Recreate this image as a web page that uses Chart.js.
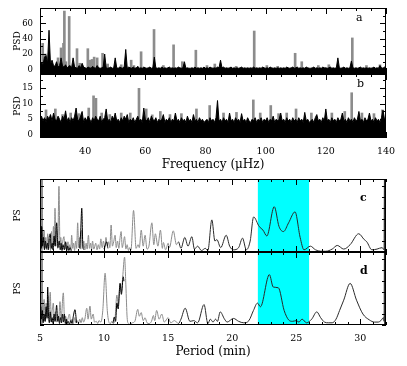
<!DOCTYPE html>
<html><head><meta charset="utf-8">
<script src="https://cdn.jsdelivr.net/npm/chart.js@4.4.1/dist/chart.umd.min.js"></script>
<style>
html,body{margin:0;padding:0;background:#fff;}
#wrap{position:relative;width:407px;height:366px;overflow:hidden;background:#fff;}
canvas{position:absolute;left:0;}
.lab{position:absolute;font-family:"DejaVu Serif";font-size:11px;color:#000;line-height:1;}
</style></head><body>
<div id="wrap">
<canvas id="cc" width="407" height="82" style="top:170px"></canvas>
<canvas id="cd" width="407" height="110" style="top:252px"></canvas>
<canvas id="ca" width="407" height="74" style="top:0px"></canvas>
<canvas id="cb" width="407" height="100" style="top:74px"></canvas>
<div class="lab" style="left:356px;top:12px">a</div>
<div class="lab" style="left:357px;top:78px">b</div>
<div class="lab" style="left:360px;top:192px;font-weight:bold">c</div>
<div class="lab" style="left:360px;top:265px;font-weight:bold">d</div>
</div>
<script>
// ---------- DATA ----------
// Panels a,b: frequency grid (muHz)
const FREQ_START = 25, FREQ_STEP = 0.5;
const freqTicks = [40, 60, 80, 100, 120, 140];
const psdTicksA = [0, 20, 40, 60];
const psdTicksB = [0, 5, 10, 15];
const periodTicks = [5, 10, 15, 20, 25, 30];
const highlightPeriod = [22, 26];

// panel a: black spectrum, one value per 0.5 muHz from 25 to 140
const psdBlackA = [
 3, 9, 6, 16, 18, 8, 51, 6, 12, 5,
 4, 10, 3, 5, 15, 4, 3, 6, 2, 4,
 5, 2, 15, 3, 2, 1.5, 5, 2, 8, 3,
 2, 1.5, 3, 2, 1.5, 4, 2, 1.5, 5, 2,
 1.5, 2, 3, 20, 2, 1.5, 2, 3, 1.5, 2,
 15, 2, 1.5, 3, 2, 1.5, 4, 26, 1.5, 3,
 2, 1.5, 3, 1.5, 2, 4, 1.5, 2, 1.5, 3,
 2, 1.5, 2, 3, 1.5, 2, 16, 2, 1.5, 2,
 1.5, 3, 1.5, 2, 1.5, 2, 3, 1.5, 2, 1.5,
 2, 1.5, 3, 2, 1.5, 2, 10, 1.5, 2, 1.5,
 1.5, 2, 1.5, 3, 1.5, 2, 1.5, 2, 1.5, 3,
 1.5, 2, 1.5, 3, 2, 1.5, 2, 1.5, 3, 2,
 12, 2, 3, 1.5, 2, 1.5, 2, 3, 1.5, 2,
 1.5, 2, 1.5, 2, 3, 1.5, 2, 1.5, 2, 1.5,
 2, 1.5, 3, 1.5, 2, 1.5, 2, 1.5, 3, 2,
 1.5, 2, 1.5, 3, 2, 1.5, 2, 1.5, 2, 1.5,
 2, 1.5, 2, 1.5, 3, 2, 1.5, 2, 3, 1.5,
 2, 3, 1.5, 2, 1.5, 2, 1.5, 3, 2, 1.5,
 1.5, 2, 3, 1.5, 2, 1.5, 2, 1.5, 3, 2,
 2, 1.5, 2, 3, 1.5, 2, 1.5, 2, 15, 2,
 1.5, 2, 3, 1.5, 2, 1.5, 2, 11, 2, 1.5,
 2, 1.5, 2, 3, 1.5, 2, 1.5, 2, 1.5, 2,
 1.5, 2, 3, 1.5, 2, 1.5, 5, 2, 1.5, 3,
 2
];
// panel a: grey peaks
const greyFreqA = [25.9, 26.8, 31.0, 32.0, 32.8, 33.1, 33.6, 34.7, 37.3, 38.2, 40.9, 41.6, 42.3, 43.0, 44.0, 45.8, 47.5, 52.0, 55.3, 56.2, 58.6, 62.9, 66.0, 69.4, 72.3, 76.8, 80.5, 83.1, 90.2, 96.2, 100.4, 104.0, 109.8, 112.0, 117.5, 121.0, 128.8, 133.5, 138.0];
const greyPsdA  = [34, 20, 15, 28, 34, 76, 10, 69, 27, 8, 27, 12, 13, 16, 15, 21, 7, 6, 12, 5, 23, 52, 5, 32, 10, 25, 5, 7, 4, 50, 5, 4, 21, 10, 5, 6, 41, 5, 6];

// panel b: black spectrum, one value per 0.5 muHz from 25 to 140
const psdBlackB = [
 5, 6, 4.5, 5.5, 4, 6, 5, 6.5, 4.5, 7,
 5, 4.5, 6, 5, 4, 6, 5, 7.7, 4.5, 5.5,
 4, 5.5, 4.5, 6, 8.6, 5, 4.5, 6, 7.5, 4,
 5.5, 4.5, 6, 5, 4, 5.5, 4.5, 6, 5, 4.5,
 6, 4, 5, 5.5, 8.3, 4.5, 5, 4, 6, 5,
 7, 4.5, 5, 4, 5.5, 4.5, 6, 5, 6.5, 4,
 5, 4.5, 5.5, 4, 5, 6, 4.5, 5, 4, 8.6,
 5, 4.5, 5.5, 4, 6, 5, 4.5, 5.5, 4, 5,
 4.5, 5, 6.5, 4, 5, 4.5, 5.5, 4, 5, 4.5,
 7, 4.5, 5, 4, 5.5, 4.5, 5, 4, 6, 4.5,
 5, 4, 6.5, 4.5, 5, 4, 5.5, 4.5, 5, 4,
 4.5, 5, 4, 5.5, 4.5, 5, 4, 5.5, 11, 4.5,
 5, 4, 5.5, 4.5, 5, 4, 7, 4.5, 5, 4,
 5.5, 4.5, 5, 4, 6.8, 4.5, 5, 4, 5.5, 4.5,
 4, 5, 4.5, 5.5, 4, 5, 4.5, 5.5, 4, 5,
 4.5, 5.5, 4, 5, 4.5, 6, 4, 5, 4.5, 5,
 7, 4.5, 5, 4, 5.5, 4.5, 5, 4, 5.5, 4.5,
 5, 4, 5.5, 4.5, 5, 4, 7.2, 4.5, 5, 4,
 4.5, 5, 4, 5.5, 6.5, 4.5, 5, 4, 5.5, 4.5,
 8.3, 4.5, 5, 4, 5.5, 4.5, 5, 4, 5.5, 4.5,
 5, 7, 4.5, 5, 4, 5.5, 4.5, 5, 4, 5.5,
 4.5, 5, 7.5, 4.5, 5, 4, 5.5, 4.5, 5, 7,
 4.5, 5, 4, 5.5, 4.5, 5, 4, 5.5, 7.9, 5,
 5
];
// panel b: grey peaks
const greyFreqB = [27.0, 30.1, 32.5, 35.2, 38.0, 41.2, 42.8, 43.6, 45.5, 48.2, 52.0, 55.0, 57.9, 60.3, 62.3, 65.0, 68.2, 72.0, 77.0, 81.4, 86.0, 90.3, 95.9, 98.2, 101.7, 104.3, 107.0, 110.1, 115.2, 122.0, 126.3, 128.6, 132.0, 136.0, 138.8];
const greyPsdB  = [8, 8.3, 6.5, 7, 6.8, 8.6, 12.5, 11.7, 7, 6.5, 7, 7, 14.9, 8.3, 6.4, 7.5, 6.5, 6.8, 8.3, 9.4, 7, 7.2, 11.2, 7, 9.4, 6.8, 7, 8.3, 7, 7, 7.5, 13.5, 7, 6.8, 8];

// panel c: [period (min), PS (% of panel)]
const psGreyC = [
 [5.00,100],[5.03,0],[5.06,100],[5.09,0],[5.12,100],[5.15,0],[5.18,100],[5.21,5],
 [5.25,10],[5.32,30],[5.38,5],[5.45,20],[5.52,3],[5.6,25],[5.68,5],[5.75,18],[5.82,2],[5.9,28],[5.97,4],[6.05,35],[6.12,10],[6.17,60],[6.24,8],[6.3,30],[6.38,5],[6.48,90],[6.56,10],[6.62,20],[6.7,3],[6.78,15],[6.87,21],[6.95,4],[7.02,12],[7.1,2],[7.18,14],[7.25,3],[7.32,10],[7.4,2],[7.47,23],[7.55,5],[7.62,12],[7.7,2],[7.78,15],[7.86,5],[7.94,40],[8.02,6],[8.1,20],[8.18,4],[8.26,30],[8.34,5],[8.42,15],[8.5,3],[8.6,12],[8.68,4],[8.78,23],[8.86,5],[8.95,12],[9.03,3],[9.1,15],[9.2,4],[9.35,12],[9.45,3],[9.55,10],[9.65,4],[9.75,18],[9.85,6],[9.95,15],[10.05,5],[10.15,20],[10.25,8],[10.35,14],[10.45,6],[10.55,37],[10.65,8],[10.75,14],[10.86,23],[10.95,6],[11.05,15],[11.15,5],[11.25,20],[11.33,28],[11.42,6],[11.5,12],[11.6,21],[11.7,4],[11.8,10],[11.9,2],[12.0,6],[12.1,3],[12.3,57],[12.5,5],[12.65,10],[12.75,6],[12.9,30],[13.05,8],[13.2,23],[13.35,4],[13.5,8],[13.73,40],[13.88,10],[14.0,25],[14.2,8],[14.4,30],[14.55,5],[14.63,13],[14.8,3],[15.0,12],[15.1,6],[15.4,29],[15.65,10],[15.8,14],[16.0,5],[16.3,20],[16.55,8],[16.85,21],[17.05,4],[17.3,8],[17.6,2],[17.9,5],[18.1,2],[18.41,44],[18.65,15],[18.8,17],[19.1,6],[19.53,23],[19.8,8],[20.1,3],[20.5,6],[20.8,19],[21.1,3],[21.4,15],[21.67,48],[22.1,35],[22.4,30],[22.7,22],[23.28,62],[23.65,35],[24.0,28],[24.4,40],[24.9,55],[25.3,20],[25.6,3],[26.1,8],[26.5,3],[27.0,1],[27.3,1],[27.8,4],[28.2,9],[28.7,4],[29.2,10],[29.87,25],[30.3,17],[30.5,14],[30.9,3],[31.3,4],[31.7,6],[31.85,3],[31.88,100],[31.91,0],[31.94,100],[31.97,0],[32.0,100]
];
const psBlackC = [
 [5.0,20],[5.05,35],[5.1,5],[5.13,35],[5.2,8],[5.28,20],[5.35,3],[5.42,15],[5.5,5],[5.58,12],[5.65,3],[5.72,20],[5.8,25],[5.88,5],[5.95,12],[6.02,3],[6.1,22],[6.18,8],[6.3,40],[6.4,6],[6.5,15],[6.58,3],[6.65,12],[6.72,2],[6.8,10],[6.9,3],[7.0,14],[7.08,2],[7.15,8],[7.25,2],[7.35,6],[7.45,2],[7.5,null],
 [8.1,5],[8.18,30],[8.26,60],[8.34,10],[8.42,3],[8.5,null],
 [10.0,4],[10.1,10],[10.2,14],[10.3,5]
];
// panel d
const psGreyD = [
 [5.00,100],[5.03,0],[5.06,100],[5.09,0],[5.12,100],[5.15,0],[5.18,100],[5.21,5],
 [5.25,10],[5.32,35],[5.4,5],[5.48,30],[5.55,8],[5.62,40],[5.7,10],[5.8,45],[5.88,5],[5.95,20],[6.04,30],[6.12,5],[6.2,18],[6.28,4],[6.35,15],[6.45,5],[6.56,32],[6.65,8],[6.82,44],[6.92,6],[7.0,12],[7.1,3],[7.2,10],[7.3,15],[7.4,3],[7.5,8],[7.6,2],[7.7,10],[7.8,3],[7.9,6],[8.0,2],[8.1,8],[8.2,3],[8.3,10],[8.4,4],[8.5,8],[8.65,23],[8.75,8],[8.9,26],[9.0,8],[9.15,15],[9.25,4],[9.4,5],[9.5,2],[9.6,6],[9.75,4],[9.9,20],[10.08,71],[10.25,20],[10.4,3],[10.5,2],[10.6,5],[10.7,2],[10.85,8],[11.0,41],[11.1,28],[11.25,57],[11.35,45],[11.45,65],[11.6,93],[11.7,55],[11.8,10],[11.9,2],[12.0,1],[12.2,3],[12.4,5],[12.63,21.5],[12.75,12],[12.9,17],[13.05,6],[13.2,10],[13.35,3],[13.5,2],[13.7,5],[13.85,13],[13.95,6],[14.1,20],[14.3,8],[14.5,15],[14.7,4],[15.0,10],[15.2,3],[15.5,6],[15.8,2],[16.0,8],[16.33,23],[16.7,5],[17.0,6],[17.3,3],[17.8,28],[18.1,2],[18.3,8],[18.5,4],[18.7,8],[18.85,5],[19.06,18],[19.4,8],[19.6,4],[20.1,9],[20.5,5],[20.9,3],[21.3,6],[21.66,20],[21.97,30],[22.2,25],[22.9,69],[23.2,52],[23.6,51],[24.05,20],[24.4,7],[24.7,5],[25.0,6],[25.2,4],[25.45,8],[25.8,3],[26.2,8],[26.6,18],[26.9,10],[27.2,4],[27.5,3],[27.8,3],[28.1,8],[28.38,20],[28.7,34],[29.2,57],[29.7,34],[30.2,15],[30.7,7],[31.1,4],[31.4,4],[31.6,6],[31.8,10],[31.85,5],[31.88,100],[31.91,0],[31.94,100],[31.97,0],[32.0,100]
];
const psBlackD = [
 [5.0,15],[5.06,25],[5.12,8],[5.18,20],[5.25,3],[5.32,15],[5.4,5],[5.48,25],[5.55,10],[5.6,52],[5.66,15],[5.73,3],[5.8,18],[5.88,4],[5.95,10],[6.02,2],[6.1,15],[6.18,5],[6.3,27],[6.38,5],[6.45,12],[6.52,2],[6.6,10],[6.68,3],[6.75,15],[6.83,4],[6.9,15],[6.98,2],[7.05,8],[7.12,2],[7.2,5],[7.3,1],[7.4,6],[7.5,2],[7.6,12],[7.73,21],[7.85,3],[7.9,null],
 [10.7,3],[10.8,11],[10.9,5],[11.0,30],[11.1,22],[11.25,57],[11.35,42],[11.5,66],[11.55,60]
];

// ---------- STYLE / PLUGINS ----------
const SERIF = "DejaVu Serif";
const GREY = '#8c8c8c';
const DARK_FROM = 15.8;

const frameTicks = {
  id: 'frameTicks',
  beforeDatasetsDraw(chart, args, o) {
    if (!o.band) return;
    const {ctx, chartArea: {top, bottom}, scales: {x}} = chart;
    const x0 = x.getPixelForValue(o.band[0]), x1 = x.getPixelForValue(o.band[1]);
    ctx.save(); ctx.fillStyle = '#00ffff'; ctx.fillRect(x0, top, x1 - x0, bottom - top); ctx.restore();
  },
  afterDatasetsDraw(chart, args, o) {
    const {ctx, chartArea: {left, right, top, bottom}, scales: {x, y}} = chart;
    ctx.save();
    ctx.strokeStyle = '#000'; ctx.lineWidth = 1;
    ctx.strokeRect(left + 0.5, top + 0.5, right - left - 1, bottom - top - 1);
    const set = (scale, step, len, horiz) => {
      for (let i = Math.ceil(scale.min / step - 1e-9); i * step <= scale.max + 1e-9; i++) {
        const p = Math.round(scale.getPixelForValue(i * step)) + 0.5;
        ctx.beginPath();
        if (horiz) { ctx.moveTo(p, bottom); ctx.lineTo(p, bottom - len); ctx.moveTo(p, top); ctx.lineTo(p, top + len); }
        else { ctx.moveTo(left, p); ctx.lineTo(left + len, p); ctx.moveTo(right, p); ctx.lineTo(right - len, p); }
        ctx.stroke();
      }
    };
    set(x, o.xMinor, 3, true); set(x, o.xMajor, 6, true);
    set(y, o.yMinor, 3, false); set(y, o.yMajor, o.yMajorLen || 6, false);
    ctx.restore();
  }
};

function yAxis(min, max, ticks, title, showLabels) {
  return {
    min, max,
    grid: {display: false, drawTicks: false}, border: {display: false},
    ticks: {display: showLabels, padding: 7, color: '#000', font: {family: SERIF, size: 8.5}},
    afterBuildTicks(s) { if (ticks) s.ticks = ticks.map(v => ({value: v})); },
    afterFit(s) { s.width = 40; s.paddingTop = 0; s.paddingBottom = 0; },
    title: {display: true, text: title, color: '#000', font: {family: SERIF, size: 9}, padding: {top: 12, bottom: 0}}
  };
}
function xAxis(min, max, ticks, title, h, titlePad) {
  return {
    type: 'linear', min, max, offset: false,
    grid: {display: false, drawTicks: false}, border: {display: false},
    ticks: {display: !!ticks, padding: 8, color: '#000', font: {family: SERIF, size: 9.5}, maxRotation: 0, autoSkip: false},
    afterBuildTicks(s) { if (ticks) s.ticks = ticks.map(v => ({value: v})); },
    afterFit(s) { s.height = h; s.paddingLeft = 0; s.paddingRight = 0; },
    title: {display: !!title, text: title || '', color: '#000', font: {family: SERIF, size: 12}, padding: {top: 0, bottom: titlePad || 0}}
  };
}
const baseOpts = {responsive: false, animation: false, devicePixelRatio: 1, events: []};

function freqPanel(id, blackVals, gFreq, gPsd, yMin, yMax, yTicks, ticksCfg, xTicks, xTitle, xH, padTop) {
  return new Chart(document.getElementById(id), {
    type: 'line',
    data: {datasets: [
      {type: 'bar', data: gFreq.map((f, i) => ({x: f, y: gPsd[i]})), backgroundColor: GREY, barThickness: 2, grouped: false, order: 2},
      {type: 'line', data: blackVals.map((v, i) => ({x: FREQ_START + i * FREQ_STEP, y: v})), borderColor: '#000', backgroundColor: '#000', borderWidth: 1, pointRadius: 0, fill: 'start', order: 1}
    ]},
    options: Object.assign({}, baseOpts, {
      layout: {padding: {top: padTop, right: 21, left: 0, bottom: 0}},
      plugins: {legend: {display: false}, tooltip: {enabled: false}, frameTicks: ticksCfg},
      scales: {x: xAxis(25, 140, xTicks, xTitle, xH, 2), y: yAxis(yMin, yMax, yTicks, 'PSD', true)}
    }),
    plugins: [frameTicks]
  });
}
freqPanel('ca', psdBlackA, greyFreqA, greyPsdA, -6, 80, psdTicksA, {xMajor: 20, xMinor: 5, yMajor: 20, yMinor: 10}, null, null, 0, 8);
freqPanel('cb', psdBlackB, greyFreqB, greyPsdB, -1, 19.5, psdTicksB, {xMajor: 20, xMinor: 5, yMajor: 5, yMinor: 2.5}, freqTicks, 'Frequency (\u03bcHz)', 36, 0);

function periodPanel(id, grey, black, xTicks, xTitle, xH, padTop) {
  return new Chart(document.getElementById(id), {
    type: 'line',
    data: {datasets: [
      {data: grey.map(p => ({x: p[0], y: p[1]})), borderColor: GREY, borderWidth: 1, pointRadius: 0, cubicInterpolationMode: 'monotone', order: 2,
       segment: {borderColor: c => c.p0.parsed.x >= DARK_FROM ? '#2a2a2a' : GREY}},
      {data: black.map(p => ({x: p[0], y: p[1]})), borderColor: '#000', borderWidth: 1, pointRadius: 0, cubicInterpolationMode: 'monotone', spanGaps: false, order: 1}
    ]},
    options: Object.assign({}, baseOpts, {
      layout: {padding: {top: padTop, right: 21, left: 0, bottom: 0}},
      plugins: {legend: {display: false}, tooltip: {enabled: false},
        frameTicks: {xMajor: 5, xMinor: 1, yMajor: 15, yMinor: 15, yMajorLen: 4, band: highlightPeriod}},
      scales: {x: xAxis(5, 32, xTicks, xTitle, xH, 3), y: yAxis(0, 100, null, 'PS', false)}
    }),
    plugins: [frameTicks]
  });
}
periodPanel('cc', psGreyC, psBlackC, null, null, 0, 9);
periodPanel('cd', psGreyD, psBlackD, periodTicks, 'Period (min)', 37, 0);
</script>
</body></html>
